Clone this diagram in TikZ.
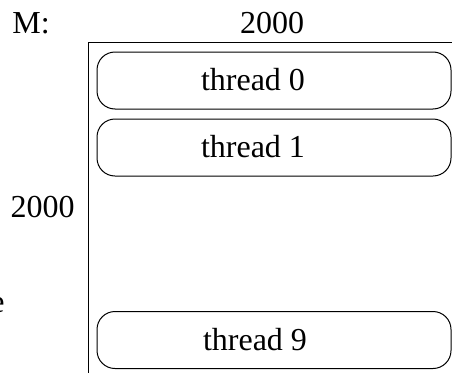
\documentclass[tikz,border=0pt]{standalone}
\usepackage{fontspec}
\setmainfont{Liberation Serif}

\begin{document}
\begin{tikzpicture}[x=1pt,y=-1pt,line width=1pt,
  lbl/.style={inner sep=0pt,font=\fontsize{32}{38}\selectfont},
  threadbox/.style={draw,rounded corners=18pt,minimum width=354pt,minimum height=57pt,inner sep=0pt}]
  \useasboundingbox (0,0) rectangle (452,372);
  \clip (0,0) rectangle (452,372);
  \draw (88,380) -- (88,42) -- (470,42);
  \node[threadbox] (box0) at (274,80.5) {};
  \node[threadbox] (box1) at (274,147.5) {};
  \node[threadbox] (box9) at (274,340) {};
  \node[lbl,anchor=base] (t0) at (253,90) {thread 0};
  \node[lbl,anchor=base] (t1) at (253,157) {thread 1};
  \node[lbl,anchor=base] (t9) at (255,350) {thread 9};
  \node[lbl,anchor=base west] (m) at (12,33) {M:};
  \node[lbl,anchor=base] (cols) at (272,33) {2000};
  \node[lbl,anchor=base east] (rows) at (75,217) {2000};
  \node[lbl,anchor=base east] (cut) at (5,312) {e};
\end{tikzpicture}
\end{document}
